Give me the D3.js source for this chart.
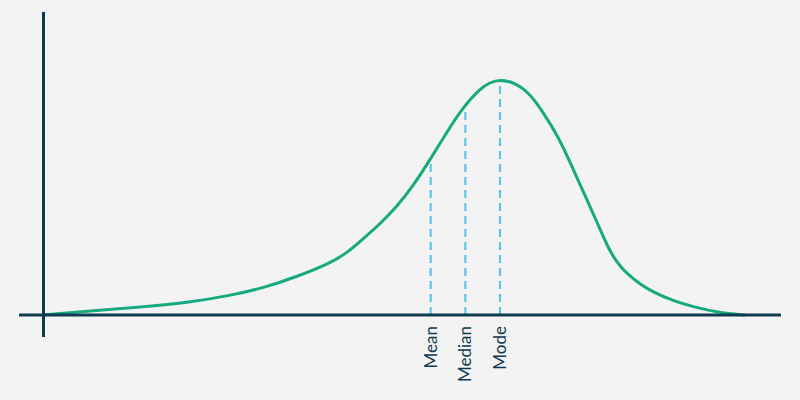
<!DOCTYPE html>
<html>
<head>
<meta charset="utf-8">
<script src="https://cdn.jsdelivr.net/npm/d3@7"></script>
<style>
  html, body { margin: 0; padding: 0; background: #f3f3f3; }
  svg { display: block; }
</style>
</head>
<body>
<div id="chart"></div>
<script>
// curve points (x position, density)
var curveX = [0, 6.3, 13.1, 19.9, 25.3, 29.8, 34.4, 38.9, 41.2, 43.3, 45.6, 47.9, 50.1, 52.4, 54.7, 56.9, 59.2, 60.5, 61.9, 63.9, 66.0, 67.7, 69.6, 71.4, 73.2, 75.1, 76.5, 77.6, 79.1, 80.9, 82.6, 85.4, 88.1, 91.7, 95.1];
var curveY = [0, 0.013, 0.026, 0.042, 0.065, 0.090, 0.128, 0.173, 0.208, 0.253, 0.303, 0.360, 0.430, 0.517, 0.610, 0.693, 0.755, 0.775, 0.785, 0.775, 0.737, 0.677, 0.603, 0.510, 0.410, 0.307, 0.227, 0.180, 0.137, 0.103, 0.077, 0.047, 0.027, 0.007, 0];

// mean / median / mode markers
var markerNames = ["Mean", "Median", "Mode"];
var markerX = [52.5, 57.2, 61.9];
var markerY = [0.52, 0.70, 0.782];

var svgWidth = 800, svgHeight = 400;
var axisColor = "#0f3a50";

var svg = d3.select("#chart")
	.append("svg")
		.attr("width", svgWidth)
		.attr("height", svgHeight);

svg.append("rect")
	.attr("width", svgWidth)
	.attr("height", svgHeight)
	.attr("fill", "#f3f3f3");

var x = d3.scaleLinear()
	.domain([0, 100])
	.range([43.5, 781]);

var y = d3.scaleLinear()
	.domain([0, 1])
	.range([315, 15]);

var data = curveX.map(function(d, i) { return {x: d, y: curveY[i]}; });
var markers = markerNames.map(function(n, i) { return {name: n, x: markerX[i], y: markerY[i]}; });

// dashed marker lines
svg.selectAll(".marker")
	.data(markers)
	.enter()
	.append("line")
		.attr("class", "marker")
		.attr("x1", function(d) { return x(d.x); })
		.attr("x2", function(d) { return x(d.x); })
		.attr("y1", y(0))
		.attr("y2", function(d) { return y(d.y); })
		.attr("stroke", "#62c3ea")
		.attr("stroke-width", 2.2)
		.attr("stroke-dasharray", "8,5");

// the curve (basis smooths the hand-read points)
svg.append("path")
	.datum(data)
	.attr("fill", "none")
	.attr("stroke", "#17a97f")
	.attr("stroke-width", 3)
	.attr("stroke-linejoin", "round")
	.attr("d", d3.line()
		.curve(d3.curveBasis)
		.x(function(d) { return x(d.x); })
		.y(function(d) { return y(d.y); })
	);

// axes as a cross
svg.append("line")
	.attr("x1", x(0) - 24.5)
	.attr("x2", x(100))
	.attr("y1", y(0))
	.attr("y2", y(0))
	.attr("stroke", axisColor)
	.attr("stroke-width", 3);

svg.append("line")
	.attr("x1", x(0))
	.attr("x2", x(0))
	.attr("y1", y(1.01))
	.attr("y2", y(0) + 22)
	.attr("stroke", axisColor)
	.attr("stroke-width", 3);

// rotated labels
svg.selectAll(".label")
	.data(markers)
	.enter()
	.append("text")
		.attr("class", "label")
		.attr("transform", function(d) { return "translate(" + x(d.x) + "," + (y(0) + 11) + ") rotate(-90)"; })
		.attr("text-anchor", "end")
		.attr("dy", "0.35em")
		.attr("fill", axisColor)
		.style("font-family", "Lato, 'Open Sans', sans-serif")
		.style("font-size", "17px")
		.text(function(d) { return d.name; });
</script>
</body>
</html>
